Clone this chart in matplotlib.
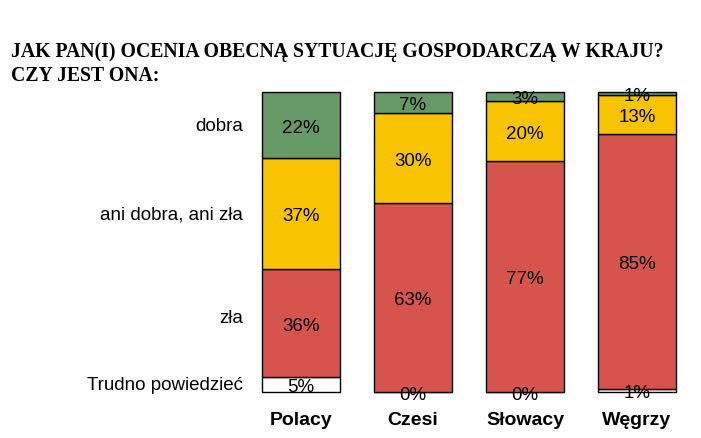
import numpy as np
import matplotlib
matplotlib.use("Agg")
import matplotlib.pyplot as plt

# Dane: odsetki odpowiedzi w kolejnych krajach
kraje = ["Polacy", "Czesi", "Słowacy", "Węgrzy"]
odpowiedzi = ["Trudno powiedzieć", "zła", "ani dobra, ani zła", "dobra"]
trudno = [5, 0, 0, 1]
zla = [36, 63, 77, 85]
ani = [37, 30, 20, 13]
dobra = [22, 7, 3, 1]

kolory = ["white", "#D6544B", "#F8C300", "#669966"]
tytul = "JAK PAN(I) OCENIA OBECNĄ SYTUACJĘ GOSPODARCZĄ W KRAJU?\nCZY JEST ONA:"

serie = [trudno, zla, ani, dobra]

fig = plt.figure(figsize=(7.01, 4.39), dpi=100)
ax = fig.add_axes([250 / 701, 45.7 / 439, 440 / 701, 300 / 439])
ax.set_xlim(-51 / 112, 389 / 112)
ax.set_ylim(0, 100)
ax.axis("off")

x = np.arange(len(kraje))
dol = np.zeros(len(kraje))
for wartosci, kolor in zip(serie, kolory):
    wartosci = np.array(wartosci, dtype=float)
    ax.bar(x, wartosci, width=0.696, bottom=dol, color=kolor,
           edgecolor="black", linewidth=1, clip_on=False)
    for i in range(len(kraje)):
        ax.text(x[i], dol[i] + wartosci[i] / 2 - 0.6, f"{int(wartosci[i])}%",
                ha="center", va="center", fontsize=13.5,
                family="Liberation Sans", color="black")
    dol += wartosci

# Opisy odpowiedzi po lewej stronie (przy słupku Polaków)
srodki = np.cumsum([0] + [s[0] for s in serie[:-1]]) + np.array([s[0] for s in serie]) / 2
przesuniecia = [0, 2, 0, 0]
for nazwa, y, dy in zip(odpowiedzi, srodki, przesuniecia):
    ax.text(-0.52, y + dy, nazwa, ha="right", va="center", fontsize=13.5,
            family="Liberation Sans", color="black")

for i, kraj in enumerate(kraje):
    ax.text(x[i], -9, kraj, ha="center", va="center", fontsize=14,
            fontweight="bold", family="Liberation Sans", color="black")

fig.text(11 / 701, 1 - 64 / 439, tytul, ha="left", va="center",
         fontsize=14.2, fontweight="bold", family="Liberation Serif",
         linespacing=1.25)

fig.savefig("out.png", dpi=100)
